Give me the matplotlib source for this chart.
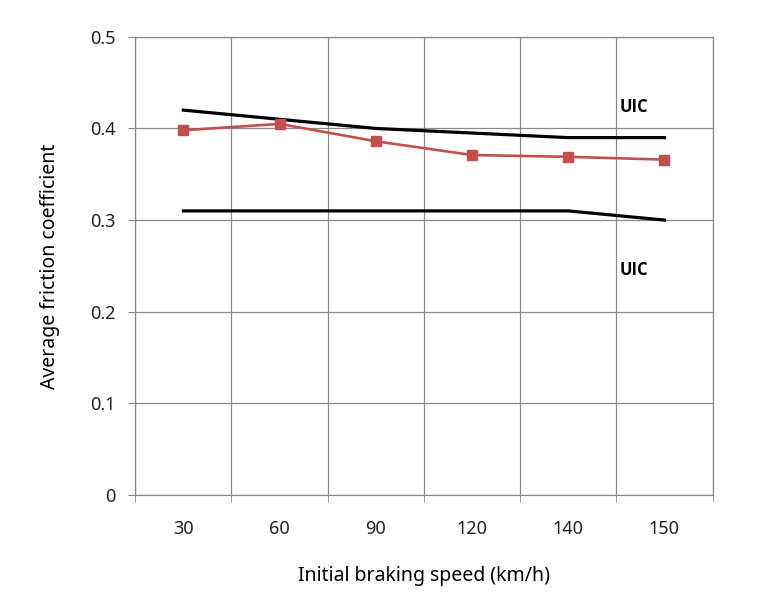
import matplotlib
matplotlib.use('agg')
import matplotlib.pyplot as plt

# Data
speeds = ['30', '60', '90', '120', '140', '150']
measured = [0.398, 0.405, 0.386, 0.371, 0.369, 0.366]
uic_upper = [0.42, 0.41, 0.40, 0.395, 0.39, 0.39]
uic_lower = [0.31, 0.31, 0.31, 0.31, 0.31, 0.30]

plt.rcParams['font.family'] = ['Noto Sans', 'DejaVu Sans']

fig = plt.figure(figsize=(7.6, 6.14), dpi=100)
ax = fig.add_axes([0.178, 0.194, 0.7595, 0.746])

x = list(range(len(speeds)))
ax.plot(x, uic_upper, color='black', lw=2.3, zorder=3)
ax.plot(x, uic_lower, color='black', lw=2.3, zorder=3)
ax.plot(x, measured, color='#C0504D', lw=1.9, marker='s', ms=6.5, zorder=4)

ax.text(4.68, 0.4236, 'UIC', ha='center', va='center', fontsize=12,
        fontweight='bold', family=['Open Sans', 'DejaVu Sans'])
ax.text(4.68, 0.2456, 'UIC', ha='center', va='center', fontsize=12,
        fontweight='bold', family=['Open Sans', 'DejaVu Sans'])

# Axes setup
ax.set_xlim(-0.5, len(speeds) - 0.5)
ax.set_ylim(0, 0.5)
ax.set_xticks(x)
ax.set_xticklabels(speeds)
ax.set_xticks([i - 0.5 for i in range(len(speeds) + 1)], minor=True)
ax.set_yticks([0, 0.1, 0.2, 0.3, 0.4, 0.5])
ax.set_yticklabels(['0', '0.1', '0.2', '0.3', '0.4', '0.5'])

ax.tick_params(axis='x', which='major', length=0, pad=18, labelsize=13, colors='#222222')
ax.tick_params(axis='x', which='minor', length=5, color='#868686')
ax.tick_params(axis='y', length=5, color='#868686', labelsize=13, labelcolor='#222222', pad=9)

ax.grid(True, which='minor', axis='x', color='#8a8a8a', lw=0.9)
ax.grid(True, which='major', axis='y', color='#8a8a8a', lw=0.9)
ax.set_axisbelow(True)
for s in ax.spines.values():
    s.set_color('#8a8a8a')
    s.set_linewidth(0.9)

ax.set_xlabel('Initial braking speed (km/h)', fontsize=14, labelpad=20)
ax.set_ylabel('Average friction coefficient', fontsize=14, labelpad=22)

fig.savefig('out.png', dpi=100)
